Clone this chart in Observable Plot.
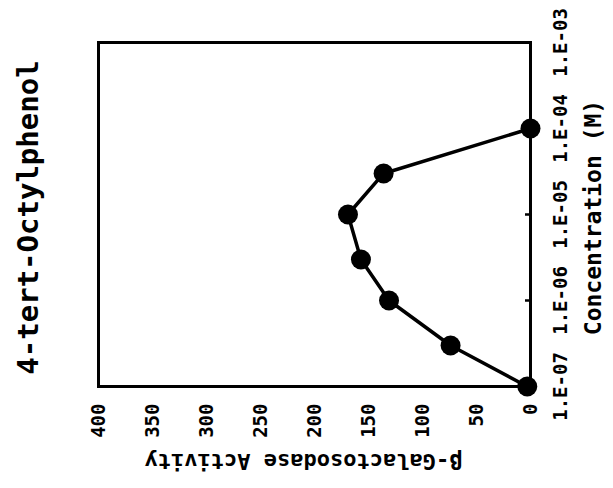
<!DOCTYPE html>
<html>
<head>
<meta charset="utf-8">
<script src="https://cdn.jsdelivr.net/npm/d3@7"></script>
<script src="https://cdn.jsdelivr.net/npm/@observablehq/plot@0.6"></script>
<style>
  html, body { margin: 0; padding: 0; background: #fff; }
  svg { display: block; }
</style>
</head>
<body>
<div id="chart"></div>
<script>
const title = "4-tert-Octylphenol";
const xLabel = "β-Galactosodase Activity";
const yLabel = "Concentration (M)";

const concentration = [1e-7, 3e-7, 1e-6, 3e-6, 1e-5, 3e-5, 1e-4];
const activity = [3, 74, 131, 157, 169, 136, 0];

const activityTicks = [0, 50, 100, 150, 200, 250, 300, 350, 400];
const concTicks = [1e-7, 1e-6, 1e-5, 1e-4, 1e-3];
const concTickLabels = ["1.E-07", "1.E-06", "1.E-05", "1.E-04", "1.E-03"];

const data = concentration.map((c, i) => ({c, a: activity[i]}));
const mono = "'DejaVu Sans Mono', monospace";

const chart = Plot.plot({
  width: 613,
  height: 488,
  marginTop: 42,
  marginBottom: 102,
  marginLeft: 98,
  marginRight: 83,
  style: {background: "#fff", color: "#000"},
  x: {domain: [0, 400], reverse: true, axis: null, label: null},
  y: {type: "log", domain: [1e-7, 1e-3], axis: null, label: null},
  marks: [
    Plot.frame({stroke: "#000", strokeWidth: 3}),
    Plot.axisY({anchor: "right", ticks: concTicks, tickSize: -6, tickFormat: () => "", label: null, strokeWidth: 2.5}),
    Plot.text(activityTicks, {x: d => d, text: d => String(d), frameAnchor: "bottom", dy: 17,
      rotate: -90, textAnchor: "end", lineAnchor: "middle",
      fontFamily: mono, fontWeight: "bold", fontSize: 19, fill: "#000"}),
    Plot.text(concTicks, {y: d => d, text: (d, i) => concTickLabels[i], frameAnchor: "right", dx: 36,
      rotate: -90, textAnchor: "middle", lineAnchor: "bottom",
      fontFamily: mono, fontWeight: "bold", fontSize: 19, fill: "#000"}),
    Plot.text([yLabel], {text: d => d, frameAnchor: "right", dx: 70, dy: 3,
      rotate: -90, textAnchor: "middle", lineAnchor: "bottom",
      fontFamily: mono, fontWeight: "bold", fontSize: 23, fill: "#000"}),
    Plot.text([xLabel], {text: d => d, frameAnchor: "bottom", dx: -11, dy: 67,
      rotate: 180, textAnchor: "middle", lineAnchor: "bottom",
      fontFamily: mono, fontWeight: "bold", fontSize: 22, fill: "#000"}),
    Plot.text([title], {text: d => d, frameAnchor: "left", dx: -61, dy: 3,
      rotate: -90, textAnchor: "middle", lineAnchor: "bottom",
      fontFamily: mono, fontWeight: "bold", fontSize: 29, fill: "#000"}),
    Plot.line(data, {x: "a", y: "c", stroke: "#000", strokeWidth: 3.5}),
    Plot.dot(data, {x: "a", y: "c", r: 10, fill: "#000", stroke: "none"})
  ]
});
document.getElementById("chart").appendChild(chart);
</script>
</body>
</html>
